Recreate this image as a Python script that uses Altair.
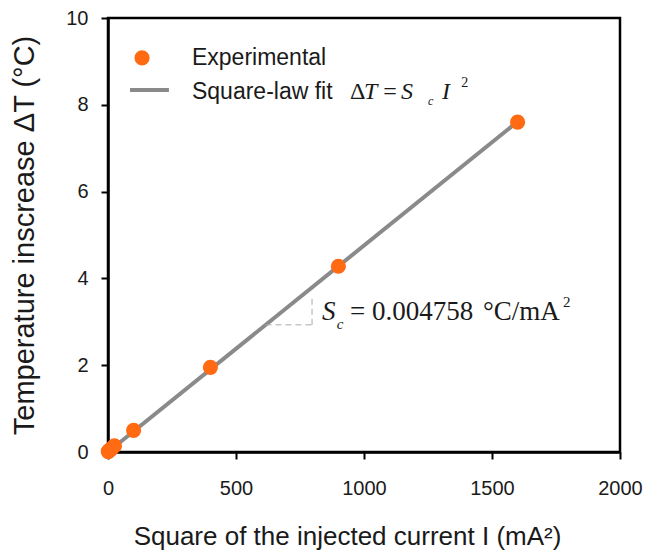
import altair as alt
import pandas as pd

# Experimental data: square of injected current (mA^2) vs temperature increase (°C)
current_sq = [1, 4, 9, 16, 25, 100, 400, 900, 1600]
delta_t = [0.01, 0.03, 0.05, 0.09, 0.14, 0.50, 1.95, 4.28, 7.60]

# Square-law fit
slope = 0.004758
fit_x = [0, 1600]
fit_y = [slope * v for v in fit_x]

# Slope-triangle guide (data units)
guide_h_x = [615, 797]
guide_h_y = [2.93, 2.93]
guide_v_x = [797, 797]
guide_v_y = [2.93, 3.57]

ORANGE = "#FF6A13"
GRAY = "#8a8a8a"
SERIF = "Liberation Serif"
SANS = "Liberation Sans"
INK = "#1a1a1a"

x_scale = alt.Scale(domain=[0, 2000], nice=False)
y_scale = alt.Scale(domain=[0, 10], nice=False)

pts = pd.DataFrame({"x": current_sq, "y": delta_t})
fit = pd.DataFrame({"x": fit_x, "y": fit_y})

base_x = alt.X("x:Q", scale=x_scale,
               axis=alt.Axis(values=[0, 500, 1000, 1500, 2000], format="d",
                             title="Square of the injected current I (mA²)"))
base_y = alt.Y("y:Q", scale=y_scale,
               axis=alt.Axis(values=[0, 2, 4, 6, 8, 10], format="d",
                             title="Temperature inscrease ΔT (°C)"))

line = alt.Chart(fit).mark_line(color=GRAY, strokeWidth=4).encode(x=base_x, y=base_y)
points = alt.Chart(pts).mark_circle(color=ORANGE, size=230, opacity=1).encode(x="x:Q", y="y:Q")

guide_h = alt.Chart(pd.DataFrame({"x": guide_h_x, "y": guide_h_y})).mark_line(
    color="#aaaaaa", strokeWidth=1, strokeDash=[6, 4]).encode(x="x:Q", y="y:Q")
guide_v = alt.Chart(pd.DataFrame({"x": guide_v_x, "y": guide_v_y})).mark_line(
    color="#aaaaaa", strokeWidth=1, strokeDash=[6, 4]).encode(x="x:Q", y="y:Q")

# Legend (drawn in data coordinates)
leg_pt = alt.Chart(pd.DataFrame({"x": [133], "y": [9.08]})).mark_circle(
    color=ORANGE, size=230, opacity=1).encode(x="x:Q", y="y:Q")
leg_line = alt.Chart(pd.DataFrame({"x": [86, 238], "y": [8.34, 8.34]})).mark_line(
    color=GRAY, strokeWidth=4).encode(x="x:Q", y="y:Q")


def txt(df, **kw):
    return alt.Chart(pd.DataFrame(df)).mark_text(align="left", baseline="middle", **kw).encode(
        x="x:Q", y="y:Q", text="t:N")


leg_txt = txt({"x": [328, 328], "y": [9.08, 8.29], "t": ["Experimental", "Square-law fit"]},
              font=SANS, fontSize=23, color=INK)

# Legend formula: ΔT = S_c I²
f_up = txt({"x": [945, 1075], "y": [8.29, 8.29], "t": ["Δ", "="]}, font=SERIF, fontSize=24, color=INK)
f_it = txt({"x": [1000, 1145, 1305], "y": [8.29, 8.29, 8.29], "t": ["T", "S", "I"]},
           font=SERIF, fontSize=24, fontStyle="italic", color=INK)
f_sub = txt({"x": [1250], "y": [8.08], "t": ["c"]}, font=SERIF, fontSize=12, fontStyle="italic", color=INK)
f_sup = txt({"x": [1380], "y": [8.50], "t": ["2"]}, font=SERIF, fontSize=14, color=INK)

# Slope annotation: S_c = 0.004758 °C/mA²
a_it = txt({"x": [836], "y": [3.23], "t": ["S"]}, font=SERIF, fontSize=27, fontStyle="italic", color=INK)
a_sub = txt({"x": [894], "y": [2.95], "t": ["c"]}, font=SERIF, fontSize=15, fontStyle="italic", color=INK)
a_up = txt({"x": [945, 1031, 1465], "y": [3.23, 3.23, 3.23], "t": ["=", "0.004758", "°C/mA"]},
           font=SERIF, fontSize=27, color=INK)
a_sup = txt({"x": [1777], "y": [3.45], "t": ["2"]}, font=SERIF, fontSize=15, color=INK)

chart = alt.layer(
    line, points, guide_h, guide_v, leg_pt, leg_line, leg_txt,
    f_up, f_it, f_sub, f_sup, a_it, a_sub, a_up, a_sup
).properties(
    width=512, height=434,
    padding={"left": 100, "top": 10, "right": 23, "bottom": 100},
    autosize="none",
).configure_view(
    stroke="black", strokeWidth=2.5
).configure_axis(
    grid=False, domainColor="black", domainWidth=2.5,
    tickColor="black", tickWidth=2, tickSize=7, labelFlush=False,
    labelFont=SANS, labelFontSize=20, labelColor=INK,
    titleFont=SANS, titleColor=INK, titleFontWeight="normal",
).configure_axisX(
    labelPadding=19, titlePadding=25, titleFontSize=26, titleX=239
).configure_axisY(
    labelPadding=13, titlePadding=26, titleFontSize=29
)

chart.save("out.html", embed_options={"renderer": "svg", "actions": False})
